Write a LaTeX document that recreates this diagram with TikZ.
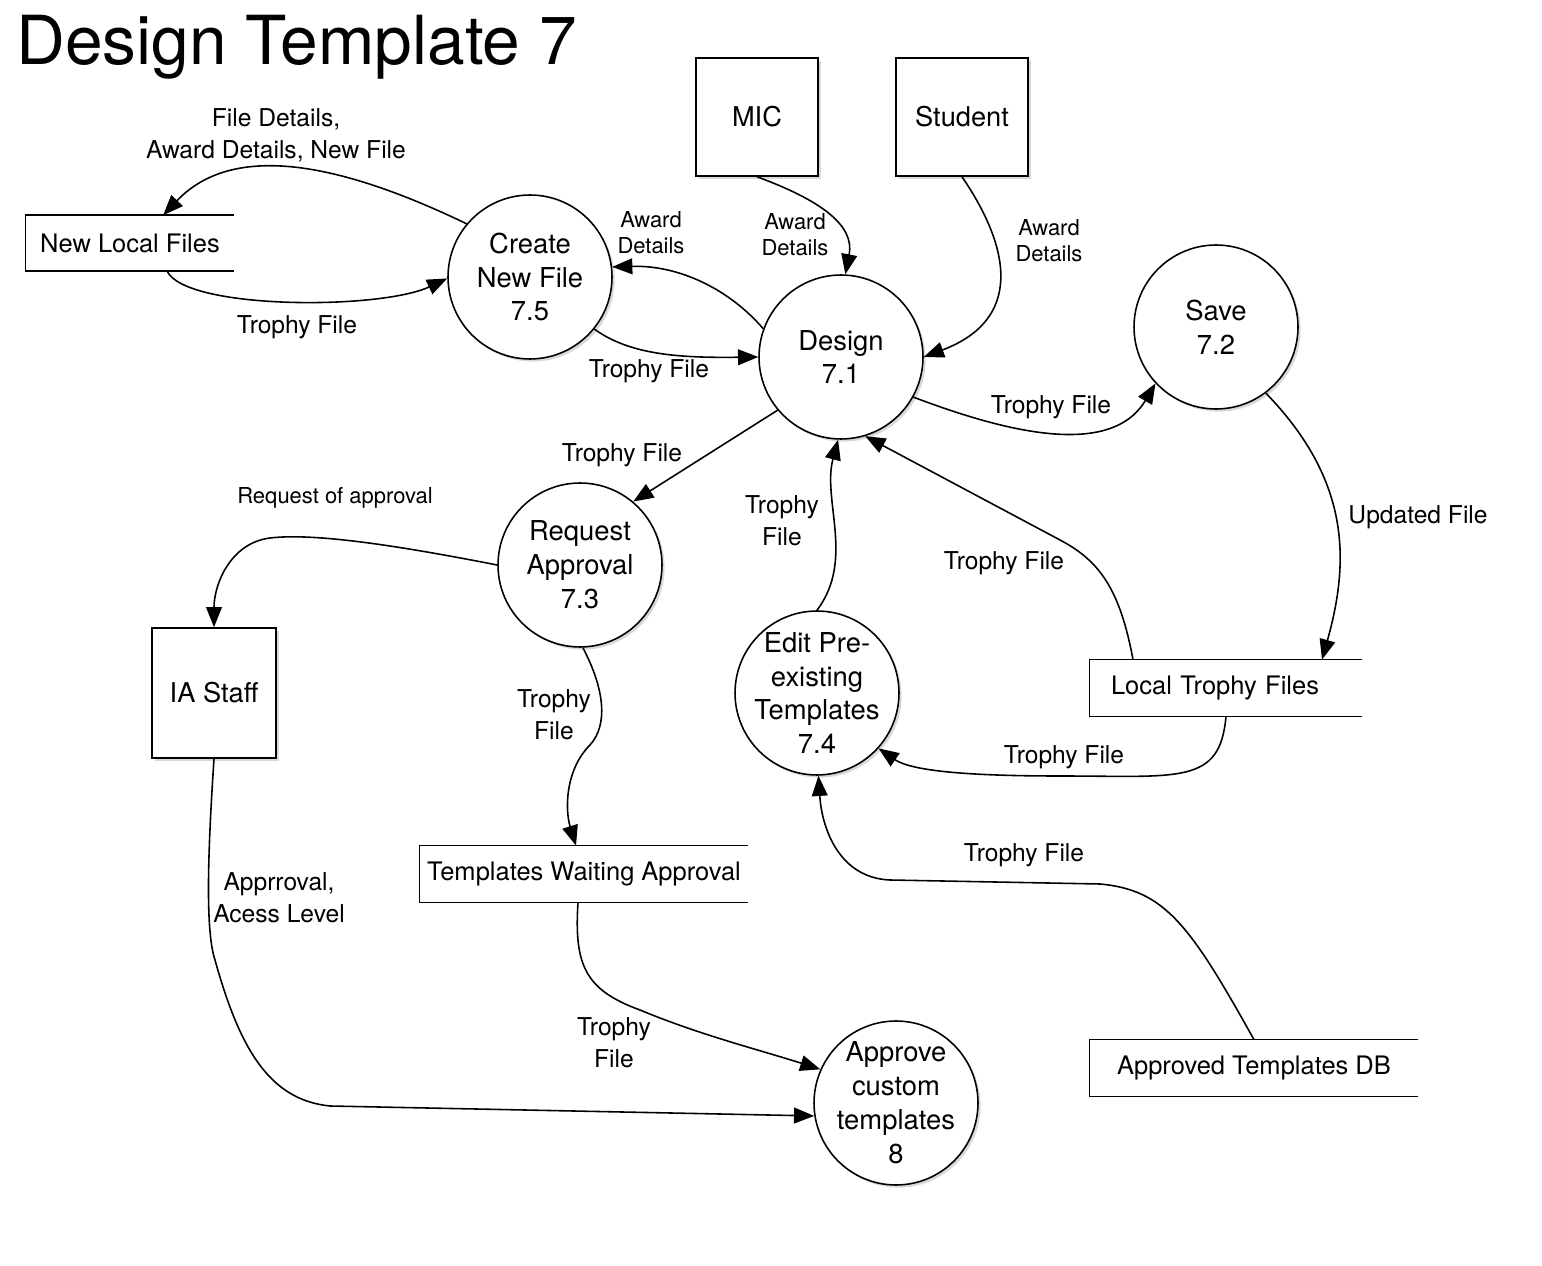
\documentclass[tikz,border=0pt]{standalone}
\usepackage{fontspec}
\setmainfont{TeX Gyre Heros}
\usetikzlibrary{arrows.meta, positioning, shadows, calc}

\tikzset{
  proc/.style={circle, draw, line width=0.9pt, fill=white, minimum size=3.28cm, inner sep=0pt,
    drop shadow={shadow xshift=1.5pt, shadow yshift=-1.5pt, opacity=0.3}},
  proctext/.style={align=center, font=\fontsize{15.6}{19.3}\selectfont},
  entity/.style={rectangle, draw, line width=0.9pt, fill=white, inner sep=0pt,
    font=\fontsize{15.5}{19}\selectfont,
    drop shadow={shadow xshift=1.5pt, shadow yshift=-1.5pt, opacity=0.3}},
  store/.style={rectangle, minimum height=1.12cm, inner sep=0pt, font=\fontsize{14.5}{18}\selectfont},
  flow/.style={line width=0.9pt, -{Triangle[length=11.5pt, width=9pt]}},
  flowlabel/.style={align=center, font=\fontsize{14}{18.2}\selectfont},
  smalllabel/.style={align=center, font=\fontsize{12.5}{14.8}\selectfont},
}

\begin{document}
\begin{tikzpicture}[x=0.02cm, y=-0.02cm]
  \useasboundingbox (0,0) rectangle (1542,1266);

  %% Title
  \node[anchor=base west, inner sep=0pt, font=\fontsize{38.5}{44}\selectfont] (title) at (16,65) {Design Template 7};

  %% External entities
  \node[entity, minimum width=2.44cm, minimum height=2.36cm] (mic) at (757,117) {MIC};
  \node[entity, minimum width=2.64cm, minimum height=2.36cm] (stu) at (962,117) {Student};
  \node[entity, minimum width=2.48cm, minimum height=2.6cm]  (ias) at (214,693) {IA Staff};

  %% Processes
  \node[proc, label={[proctext]center:Create\\New File\\7.5}] (cnf) at (530,277) {};
  \node[proc, label={[proctext]center:Design\\7.1}] (des) at (841,357) {};
  \node[proc, label={[proctext]center:Save\\7.2}] (sav) at (1216,327) {};
  \node[proc, label={[proctext]center:Request\\Approval\\7.3}] (req) at (580,565) {};
  \node[proc, label={[proctext]center:Edit Pre-\\existing\\Templates\\7.4}] (edt) at (817,693) {};
  \node[proc, label={[proctext]center:Approve\\custom\\templates\\8}] (apr) at (896,1103) {};

  %% Data stores (open on the right)
  \node[store, minimum width=4.16cm, minimum height=1.1cm] (nlf) at (130,243) {New Local Files};
  \node[store, minimum width=5.44cm, text width=4.6cm, align=left] (ltf) at (1226,688) {Local Trophy Files};
  \node[store, minimum width=6.56cm] (twa) at (584,874) {Templates Waiting Approval};
  \node[store, minimum width=6.56cm] (atd) at (1254,1068) {Approved Templates DB};

  \draw[line width=0.9pt] (nlf.north east) -- (nlf.north west) -- (nlf.south west) -- (nlf.south east);
  \draw[line width=0.9pt] (ltf.north east) -- (ltf.north west) -- (ltf.south west) -- (ltf.south east);
  \draw[line width=0.9pt] (twa.north east) -- (twa.north west) -- (twa.south west) -- (twa.south east);
  \draw[line width=0.9pt] (atd.north east) -- (atd.north west) -- (atd.south west) -- (atd.south east);

  %% Flows around Create New File
  \draw[flow] (cnf.140) .. controls (330,158) and (230,145) .. (nlf.40);
  \draw[flow] (nlf.-37) .. controls (185,310) and (380,310) .. (cnf.181);
  \draw[flow] (des.160) .. controls (730,290) and (680,265) .. (cnf.7);
  \draw[flow] (cnf.-39) .. controls (630,355) and (680,358) .. (des.180);

  %% Flows into Design
  \draw[flow] (mic.south) .. controls (820,200) and (855,225) .. (des.87);
  \draw[flow] (stu.south) .. controls (1012,250) and (1022,320) .. (des.0);
  \draw[flow] (edt.90) .. controls (855,560) and (822,500) .. (des.-92);
  \draw[flow] ([xshift=-1.86cm]ltf.north) .. controls (1120,590) and (1100,561) .. (1060,540) -- (des.-73);

  %% Save and local files
  \draw[flow] (des.-29) .. controls (1000,430) and (1110,460) .. (sav.-137);
  \draw[flow] (sav.-53) .. controls (1350,480) and (1350,560) .. ([xshift=1.92cm]ltf.north);
  \draw[flow] (ltf.south) .. controls (1220,785) and (1180,776) .. (1060,776)
    .. controls (960,776) and (910,770) .. (edt.-42);
  \draw[flow] (atd.north) .. controls (1190,925) and (1165,890) .. (1100,884) -- (890,880)
    .. controls (840,878) and (822,830) .. (edt.-89);

  %% Approval path
  \draw[flow] (des.-140) -- (req.50);
  \draw[flow] (req.180) .. controls (420,550) and (320,532) .. (270,538)
    .. controls (230,543) and (214,585) .. (ias.north);
  \draw[flow] (req.-88) .. controls (605,690) and (608,725) .. (590,745)
    .. controls (565,770) and (565,810) .. ([xshift=-0.16cm]twa.north);
  \draw[flow] ([xshift=-0.12cm]twa.south) .. controls (574,965) and (585,990) .. (640,1010)
    .. controls (700,1035) and (760,1050) .. (apr.156);
  \draw[flow] (ias.south) .. controls (208,850) and (205,930) .. (215,960)
    .. controls (240,1050) and (270,1100) .. (330,1106) -- (apr.189);

  %% Flow labels
  \node[flowlabel] (lbldetails) at (276,135) {File Details,\\Award Details, New File};
  \node[flowlabel] (lblnlf) at (297,327) {Trophy File};
  \node[smalllabel] (lblaward) at (651,233) {Award\\Details};
  \node[flowlabel] (lblcnf) at (649,371) {Trophy File};
  \node[smalllabel] (lblmic) at (795,235) {Award\\Details};
  \node[smalllabel] (lblstu) at (1049,241) {Award\\Details};
  \node[flowlabel] (lblsave) at (1051,407) {Trophy File};
  \node[flowlabel] (lblupd) at (1418,517) {Updated File};
  \node[flowlabel] (lblreq) at (622,455) {Trophy File};
  \node[smalllabel] (lblapp) at (335,498) {Request of approval};
  \node[flowlabel] (lbledt) at (782,521) {Trophy\\File};
  \node[flowlabel] (lblltf) at (1004,563) {Trophy File};
  \node[flowlabel] (lbltwa) at (554,715) {Trophy\\File};
  \node[flowlabel] (lblltfedt) at (1064,757) {Trophy File};
  \node[flowlabel] (lblatd) at (1024,855) {Trophy File};
  \node[flowlabel] (lblias) at (279,898) {Apprroval,\\Acess Level};
  \node[flowlabel] (lblapr) at (614,1043) {Trophy\\File};
\end{tikzpicture}
\end{document}
